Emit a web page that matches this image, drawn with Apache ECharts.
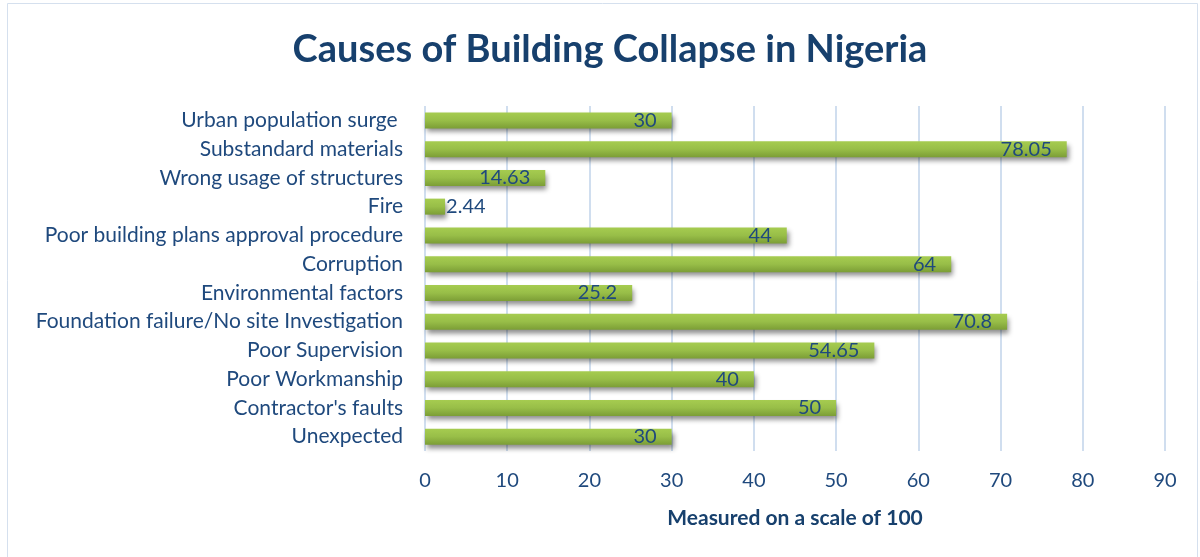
<!DOCTYPE html>
<html>
<head>
<meta charset="utf-8">
<script src="https://cdn.jsdelivr.net/npm/echarts@6/dist/echarts.min.js"></script>
<style>html,body{margin:0;padding:0;background:#fff;}#c{width:1200px;height:557px;}</style>
</head>
<body>
<div id="c"></div>
<script>
const categories = [
  "Urban population surge ",
  "Substandard materials",
  "Wrong usage of structures",
  "Fire",
  "Poor building plans approval procedure",
  "Corruption",
  "Environmental factors",
  "Foundation failure/No site Investigation",
  "Poor Supervision",
  "Poor Workmanship",
  "Contractor's faults",
  "Unexpected"
];
const values = [30, 78.05, 14.63, 2.44, 44, 64, 25.2, 70.8, 54.65, 40, 50, 30];
const xTicks = [0, 10, 20, 30, 40, 50, 60, 70, 80, 90];

const FONT = 'Lato, "Liberation Sans", sans-serif';
const DARK = '#1F497D';

const seriesData = values.map(v => {
  const d = { value: v };
  if (v < 8) {
    d.label = { position: 'right', offset: [-14, 0] };
  }
  return d;
});

const chart = echarts.init(document.getElementById('c'));
chart.setOption({
  animation: false,
  backgroundColor: '#fff',
  graphic: [{
    type: 'rect',
    shape: { x: 7.5, y: 3.5, width: 1190, height: 560 },
    style: { fill: 'none', stroke: '#D5E0EE', lineWidth: 1 },
    silent: true, z: -1
  }],
  title: {
    text: 'Causes of Building Collapse in Nigeria',
    left: 605, top: 26, textAlign: 'center',
    textStyle: { fontFamily: FONT, fontSize: 38, fontWeight: 'bold', color: '#17406D' }
  },
  grid: { left: 425, right: 35, top: 106, bottom: 106, containLabel: false },
  xAxis: {
    type: 'value', min: 0, max: 90, interval: 10,
    name: 'Measured on a scale of 100', nameLocation: 'middle', nameGap: 57,
    nameTextStyle: { fontFamily: FONT, fontSize: 21, fontWeight: 'bold', color: '#17406D' },
    axisLine: { show: false }, axisTick: { show: false },
    axisLabel: { fontFamily: FONT, fontSize: 20, color: DARK, margin: 20,
      formatter: v => xTicks.includes(v) ? String(v) : '' },
    splitLine: { show: true, lineStyle: { color: '#D0DEEF', width: 2 } }
  },
  yAxis: {
    type: 'category', data: categories, inverse: true,
    axisLine: { show: false }, axisTick: { show: false },
    axisLabel: { fontFamily: FONT, fontSize: 21, color: DARK, margin: 22 }
  },
  series: [{
    type: 'bar', data: seriesData, barWidth: 16,
    itemStyle: {
      color: new echarts.graphic.LinearGradient(0, 0, 0, 1, [
        { offset: 0, color: '#A6CC50' },
        { offset: 0.5, color: '#98BE48' },
        { offset: 1, color: '#7C9E36' }
      ]),
      shadowColor: 'rgba(0,0,0,0.45)', shadowBlur: 5, shadowOffsetX: 2, shadowOffsetY: 4
    },
    label: {
      show: true, position: 'insideRight', distance: 15,
      fontFamily: FONT, fontSize: 20, color: DARK
    }
  }]
});
</script>
</body>
</html>
